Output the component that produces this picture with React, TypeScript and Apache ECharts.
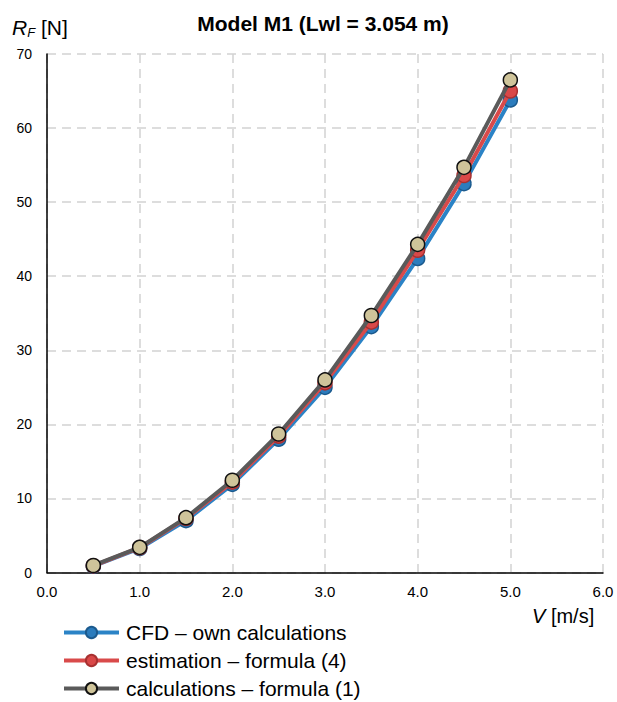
import React, { useEffect, useRef } from "react";
import * as echarts from "echarts";

// Speeds V [m/s]
const speeds = [0.5, 1.0, 1.5, 2.0, 2.5, 3.0, 3.5, 4.0, 4.5, 5.0];
// Frictional resistance R_F [N]
const cfdOwn = [0.85, 3.25, 7.0, 11.9, 18.0, 25.0, 33.2, 42.4, 52.5, 63.8];
const estimationF4 = [0.9, 3.35, 7.3, 12.2, 18.4, 25.6, 33.8, 43.5, 53.6, 65.0];
const calculationsF1 = [0.95, 3.4, 7.4, 12.45, 18.7, 26.0, 34.7, 44.3, 54.7, 66.5];

const seriesNames = [
  "CFD – own calculations",
  "estimation – formula (4)",
  "calculations – formula (1)",
];

const FONT = "'Liberation Sans', Arial, sans-serif";

export default function App() {
  const ref = useRef<HTMLDivElement>(null);

  useEffect(() => {
    if (!ref.current) return;
    const chart = echarts.init(ref.current, undefined, { renderer: "svg" });

    const pairs = (ys: number[]) => speeds.map((v, i) => [v, ys[i]]);

    const mkSeries = (
      name: string,
      ys: number[],
      line: string,
      fill: string,
      border: string,
      z: number
    ) => ({
      name,
      type: "line",
      data: pairs(ys),
      z,
      symbol: "circle",
      symbolSize: 14,
      lineStyle: { color: line, width: 4 },
      itemStyle: { color: fill, borderColor: border, borderWidth: 1.5 },
      emphasis: { disabled: true },
    });

    chart.setOption({
      animation: false,
      textStyle: { fontFamily: FONT },
      title: {
        text: "Model M1 (Lwl = 3.054 m)",
        left: 323,
        textAlign: "center",
        top: 13,
        padding: 0,
        textStyle: { fontFamily: FONT, fontSize: 21, fontWeight: "bold", color: "#000" },
      },
      grid: { left: 47, right: 14, top: 54, bottom: 129.5, containLabel: false },
      xAxis: {
        type: "value",
        min: 0,
        max: 6,
        interval: 1,
        axisLine: { show: true, lineStyle: { color: "#000", width: 1.5 } },
        axisTick: { show: false },
        axisLabel: {
          color: "#000",
          fontSize: 15,
          fontFamily: FONT,
          margin: 11,
          formatter: (v: number) => v.toFixed(1),
        },
        splitLine: {
          show: true,
          lineStyle: { color: "#d2d2d2", type: [9, 6], width: 1.5 },
        },
      },
      yAxis: {
        type: "value",
        min: 0,
        max: 70,
        interval: 10,
        axisLine: { show: true, lineStyle: { color: "#000", width: 1.5 } },
        axisTick: { show: false },
        axisLabel: { color: "#000", fontSize: 14, fontFamily: FONT, margin: 15 },
        splitLine: {
          show: true,
          lineStyle: { color: "#d2d2d2", type: [9, 6], width: 1.5 },
        },
      },
      legend: {
        orient: "vertical",
        left: 62,
        top: 622,
        height: 90,
        padding: 0,
        itemWidth: 55,
        itemHeight: 14,
        itemGap: 7,
        lineStyle: { width: 4 },
        textStyle: { fontFamily: FONT, fontSize: 21, color: "#000", padding: [0, 0, 0, 2] },
        data: seriesNames,
      },
      graphic: [
        {
          type: "text",
          left: 12,
          top: 17,
          style: {
            text: "{r|R}{f|F}{n| [N]}",
            rich: {
              r: { fontFamily: FONT, fontSize: 21, fontStyle: "italic", fill: "#000" },
              f: {
                fontFamily: FONT,
                fontSize: 13,
                fontStyle: "italic",
                fill: "#000",
                verticalAlign: "bottom",
                padding: [9, 0, 0, 0],
              },
              n: { fontFamily: FONT, fontSize: 21, fill: "#000" },
            },
          },
        },
        {
          type: "text",
          left: 532,
          top: 606,
          style: {
            text: "{v|V}{u| [m/s]}",
            rich: {
              v: { fontFamily: FONT, fontSize: 20, fontStyle: "italic", fill: "#000" },
              u: { fontFamily: FONT, fontSize: 20, fill: "#000" },
            },
          },
        },
      ],
      series: [
        mkSeries(seriesNames[0], cfdOwn, "#2b83c6", "#2b7cbd", "#1b5a8e", 2),
        mkSeries(seriesNames[1], estimationF4, "#d94a4a", "#d94848", "#a83030", 3),
        mkSeries(seriesNames[2], calculationsF1, "#5a5a5a", "#cfc49a", "#111", 4),
      ],
    });

    return () => chart.dispose();
  }, []);

  return (
    <div
      ref={ref}
      style={{ position: "fixed", left: 0, top: 0, width: 617, height: 702, background: "#fff" }}
    />
  );
}
